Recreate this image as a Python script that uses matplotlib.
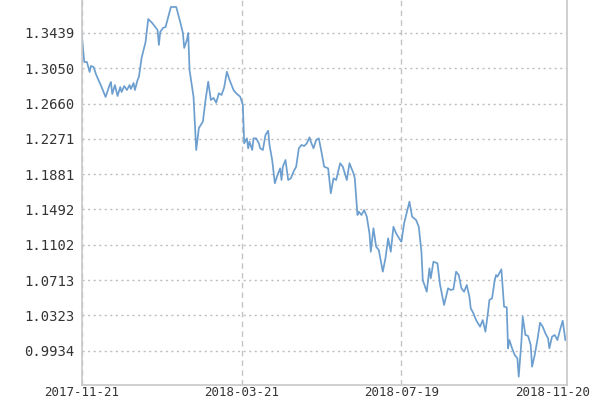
import matplotlib
matplotlib.use("Agg")
import matplotlib.pyplot as plt
import matplotlib.transforms as mtransforms
import pandas as pd

# net value series
start = "2017-11-21"
end = "2018-11-20"
day_offsets = [0, 2, 4, 6, 7, 9, 11, 12, 15, 18, 21, 22, 23, 25, 27, 29, 30, 32, 34, 36,
               37, 39, 40, 42, 43, 45, 48, 50, 53, 57, 58, 59, 61, 63, 65, 67, 71, 74, 76, 77,
               79, 80, 81, 84, 86, 88, 91, 93, 95, 97, 99, 101, 103, 105, 107, 109, 111, 114, 116, 119,
               121, 122, 124, 125, 126, 128, 129, 131, 133, 134, 136, 138, 140, 141, 143, 145, 147, 149, 150, 151,
               153, 155, 157, 159, 161, 163, 165, 167, 169, 171, 172, 174, 176, 178, 180, 182, 185, 187, 189, 191,
               194, 196, 199, 201, 204, 205, 207, 208, 210, 212, 214, 216, 217, 219, 221, 223, 226, 228, 230, 232,
               234, 236, 239, 240, 242, 246, 248, 251, 253, 255, 256, 259, 261, 262, 264, 267, 269, 272, 275, 277,
               279, 281, 283, 285, 287, 289, 291, 292, 294, 296, 299, 301, 303, 305, 306, 308, 310, 311, 312, 314,
               315, 317, 319, 320, 321, 323, 325, 327, 328, 330, 331, 333, 335, 337, 338, 340, 342, 344, 346, 348,
               350, 351, 353, 355, 357, 359, 361, 363]
nav = [1.3439, 1.3119, 1.3119, 1.3009, 1.3075, 1.3064, 1.2976, 1.2943, 1.2843, 1.2733,
       1.2865, 1.2898, 1.2766, 1.2865, 1.2744, 1.2843, 1.2788, 1.2854, 1.2810, 1.2865,
       1.2821, 1.2887, 1.2810, 1.2921, 1.2954, 1.3163, 1.3340, 1.3593, 1.3549, 1.3472,
       1.3307, 1.3450, 1.3494, 1.3505, 1.3615, 1.3726, 1.3726, 1.3560, 1.3439, 1.3274,
       1.3362, 1.3439, 1.3031, 1.2733, 1.2148, 1.2391, 1.2461, 1.2700, 1.2902, 1.2700,
       1.2722, 1.2670, 1.2774, 1.2755, 1.2840, 1.3012, 1.2921, 1.2810, 1.2774, 1.2736,
       1.2645, 1.2222, 1.2277, 1.2167, 1.2240, 1.2148, 1.2277, 1.2277, 1.2222, 1.2167,
       1.2148, 1.2314, 1.2361, 1.2204, 1.2038, 1.1781, 1.1873, 1.1946, 1.1817, 1.1964,
       1.2038, 1.1817, 1.1836, 1.1909, 1.1964, 1.2167, 1.2204, 1.2192, 1.2222, 1.2288,
       1.2240, 1.2167, 1.2259, 1.2277, 1.2126, 1.1964, 1.1946, 1.1671, 1.1836, 1.1817,
       1.2002, 1.1964, 1.1817, 1.2002, 1.1891, 1.1836, 1.1431, 1.1468, 1.1431, 1.1486,
       1.1413, 1.1229, 1.1026, 1.1285, 1.1082, 1.1045, 1.0806, 1.0954, 1.1174, 1.1026,
       1.1302, 1.1229, 1.1156, 1.1137, 1.1340, 1.1578, 1.1413, 1.1376, 1.1302, 1.1026,
       1.0714, 1.0585, 1.0843, 1.0733, 1.0916, 1.0899, 1.0659, 1.0439, 1.0623, 1.0604,
       1.0612, 1.0806, 1.0769, 1.0623, 1.0585, 1.0659, 1.0530, 1.0402, 1.0347, 1.0273,
       1.0199, 1.0273, 1.0144, 1.0365, 1.0494, 1.0512, 1.0714, 1.0769, 1.0751, 1.0806,
       1.0832, 1.0420, 1.0413, 0.9961, 1.0052, 0.9961, 0.9887, 0.9851, 0.9648, 1.0034,
       1.0309, 1.0108, 1.0097, 0.9997, 0.9758, 0.9887, 1.0052, 1.0243, 1.0199, 1.0126,
       1.0071, 0.9961, 1.0089, 1.0108, 1.0052, 1.0163, 1.0265, 1.0052]

y_ticks = [1.3439, 1.3050, 1.2660, 1.2271, 1.1881, 1.1492, 1.1102, 1.0713, 1.0323, 0.9934]
x_ticks = ["2017-11-21", "2018-03-21", "2018-07-19", "2018-11-20"]

dates = pd.Timestamp(start) + pd.to_timedelta(day_offsets, unit="D")

fig = plt.figure(figsize=(6, 4), dpi=100)
ax = fig.add_axes([0.136, 0.0375, 0.8085, 0.9625])

ax.plot(dates, nav, color="#6c9fcf", linewidth=1.25)

ax.set_xlim(pd.Timestamp(start), pd.Timestamp(end))
ax.set_ylim(0.9556, 1.3803)

ax.set_yticks(y_ticks)
ax.set_yticklabels(["%.4f" % v for v in y_ticks])
ax.set_xticks([pd.Timestamp(d) for d in x_ticks])
ax.set_xticklabels(x_ticks)

ax.tick_params(axis="both", length=0, labelsize=10, labelcolor="#333333")
ax.tick_params(axis="y", pad=5)
# date labels sit tight under the axis so they fit in the 400 px height
ax.tick_params(axis="x", pad=1, labelsize=9)
for lab in ax.get_xticklabels() + ax.get_yticklabels():
    lab.set_family("DejaVu Sans Mono")

# last date label is pulled left so it stays inside the picture
last = ax.get_xticklabels()[-1]
last.set_transform(last.get_transform() +
                   mtransforms.ScaledTranslation(-0.14, 0, fig.dpi_scale_trans))

# dotted horizontal grid, dashed vertical grid
ax.yaxis.grid(True, color="#bdbdbd", linestyle=(0, (1.5, 2.5)), linewidth=1.0)
ax.xaxis.grid(True, color="#c4c4c4", linestyle=(0, (4, 3)), linewidth=1.0)
ax.set_axisbelow(True)

for side in ["left", "bottom", "right"]:
    ax.spines[side].set_color("#c8c8c8")
    ax.spines[side].set_linewidth(1.2)
ax.spines["top"].set_visible(False)

fig.savefig("out.png", dpi=100)
